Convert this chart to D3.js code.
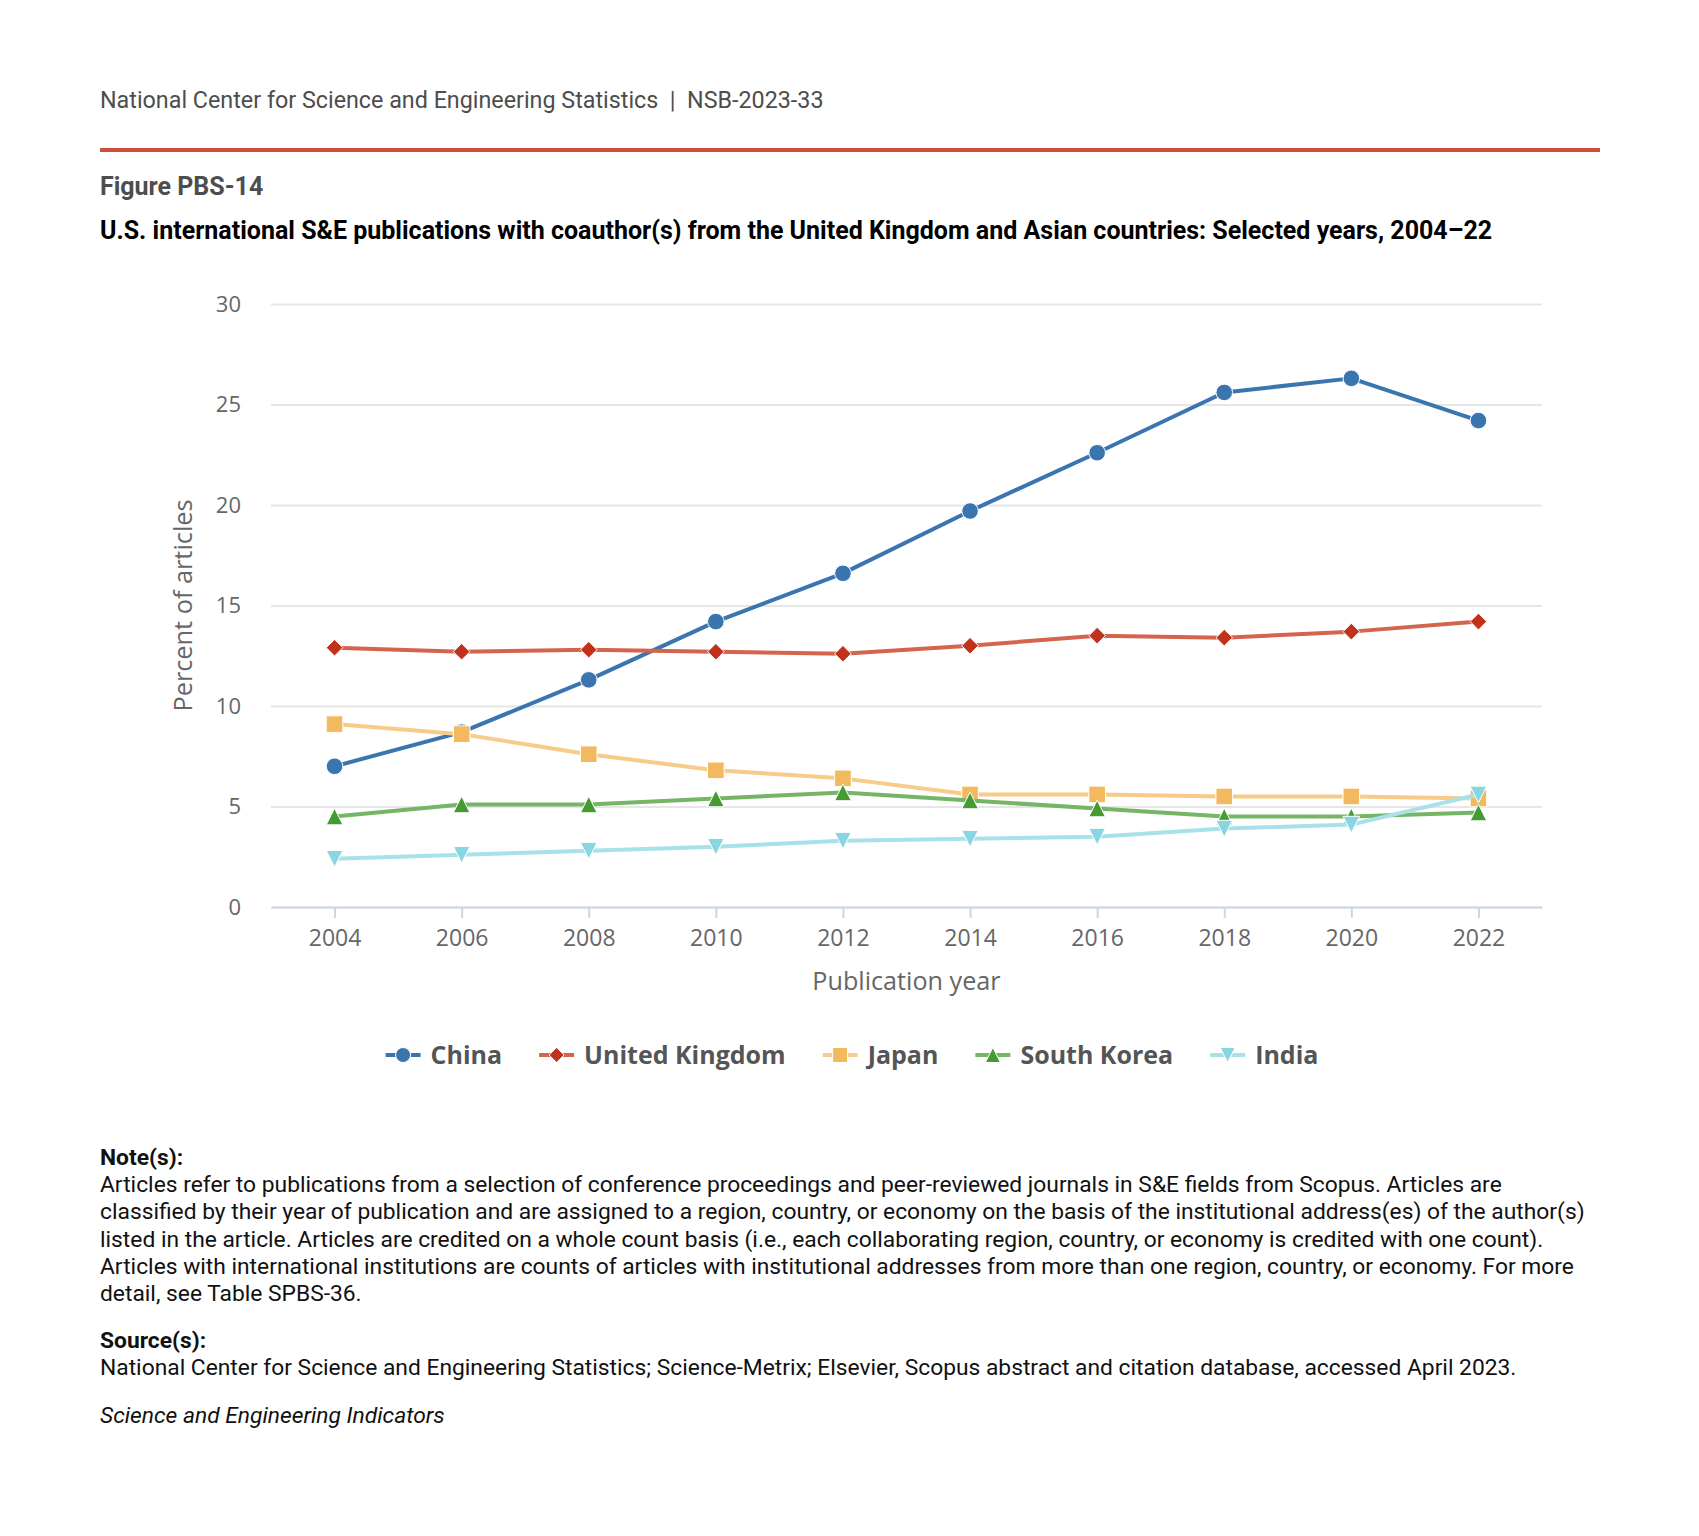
<!DOCTYPE html>
<html>
<head>
<meta charset="utf-8">
<script src="https://cdn.jsdelivr.net/npm/d3@7"></script>
<style>
  body { margin: 0; background: #fff; }
  svg { display: block; }
</style>
</head>
<body>
<div id="chart"></div>
<script>
// datos
var years = [2004, 2006, 2008, 2010, 2012, 2014, 2016, 2018, 2020, 2022];
var yTicks = [0, 5, 10, 15, 20, 25, 30];
var seriesNames = ["China", "United Kingdom", "Japan", "South Korea", "India"];
var china = [7.0, 8.7, 11.3, 14.2, 16.6, 19.7, 22.6, 25.6, 26.3, 24.2];
var unitedKingdom = [12.9, 12.7, 12.8, 12.7, 12.6, 13.0, 13.5, 13.4, 13.7, 14.2];
var japan = [9.1, 8.6, 7.6, 6.8, 6.4, 5.6, 5.6, 5.5, 5.5, 5.4];
var southKorea = [4.5, 5.1, 5.1, 5.4, 5.7, 5.3, 4.9, 4.5, 4.5, 4.7];
var india = [2.4, 2.6, 2.8, 3.0, 3.3, 3.4, 3.5, 3.9, 4.1, 5.6];

var noteLines = [
  "Articles refer to publications from a selection of conference proceedings and peer-reviewed journals in S&E fields from Scopus. Articles are",
  "classified by their year of publication and are assigned to a region, country, or economy on the basis of the institutional address(es) of the author(s)",
  "listed in the article. Articles are credited on a whole count basis (i.e., each collaborating region, country, or economy is credited with one count).",
  "Articles with international institutions are counts of articles with institutional addresses from more than one region, country, or economy. For more",
  "detail, see Table SPBS-36."
];
var sourceLine = "National Center for Science and Engineering Statistics; Science-Metrix; Elsevier, Scopus abstract and citation database, accessed April 2023.";

var values = [china, unitedKingdom, japan, southKorea, india];
var lineColors = ["#3a75b0", "#d4644e", "#f6cc88", "#75b666", "#a8e1e9"];
var markerColors = ["#3a75b0", "#c0321b", "#f2b95e", "#459a32", "#88d6e1"];

// formas de los marcadores (r = medio ancho)
var shapes = [
  function (r) { return "M" + (-r) + ",0a" + r + "," + r + " 0 1,0 " + (2 * r) + ",0a" + r + "," + r + " 0 1,0 " + (-2 * r) + ",0Z"; },
  function (r) { return "M0," + (-r) + "L" + r + ",0L0," + r + "L" + (-r) + ",0Z"; },
  function (r) { return "M" + (-r) + "," + (-r) + "H" + r + "V" + r + "H" + (-r) + "Z"; },
  function (r) { return "M0," + (-r) + "L" + r + "," + r + "H" + (-r) + "Z"; },
  function (r) { return "M" + (-r) + "," + (-r) + "H" + r + "L0," + r + "Z"; }
];

var W = 1699, H = 1536;
var svg = d3.select("#chart").append("svg").attr("width", W).attr("height", H);
svg.append("rect").attr("width", W).attr("height", H).attr("fill", "#fff");

// cabecera
svg.append("text").attr("x", 100).attr("y", 108)
  .attr("font-family", "Roboto").attr("font-size", 23.3).attr("fill", "#4d4d4d")
  .attr("xml:space", "preserve")
  .text("National Center for Science and Engineering Statistics  |  NSB-2023-33");
svg.append("line").attr("x1", 100).attr("x2", 1600).attr("y1", 150).attr("y2", 150)
  .attr("stroke", "#cc4f37").attr("stroke-width", 4);
svg.append("text").attr("x", 100).attr("y", 195)
  .attr("font-family", "Roboto").attr("font-weight", "bold").attr("font-size", 25).attr("fill", "#4d4d4d")
  .text("Figure PBS-14");
svg.append("text").attr("x", 100).attr("y", 239)
  .attr("font-family", "Roboto").attr("font-weight", "bold").attr("font-size", 25).attr("fill", "#000")
  .text("U.S. international S&E publications with coauthor(s) from the United Kingdom and Asian countries: Selected years, 2004\u201322");

// escalas
var x = d3.scaleLinear().domain([2003, 2023]).range([271, 1542]);
var y = d3.scaleLinear().domain([0, 30]).range([907, 304]);

var g = svg.append("g").attr("font-family", "Open Sans");

// rejilla y eje y
var yAxis = g.append("g").attr("transform", "translate(271,0)")
  .call(d3.axisLeft(y).tickValues(yTicks).tickSize(-(1542 - 271)).tickPadding(30));
yAxis.select(".domain").remove();
yAxis.selectAll("line").attr("stroke", "#e6e6e6").attr("stroke-width", 2);
yAxis.selectAll("text").attr("font-size", 22).attr("fill", "#666").attr("font-family", "Open Sans");

// eje x
var xAxis = g.append("g").attr("transform", "translate(0,907)")
  .call(d3.axisBottom(x).tickValues(years).tickFormat(d3.format("d")).tickSize(11).tickPadding(12).tickSizeOuter(0));
xAxis.select(".domain").attr("stroke", "#ccd6eb").attr("stroke-width", 2);
xAxis.selectAll("line").attr("stroke", "#ccd6eb").attr("stroke-width", 2);
xAxis.selectAll("text").attr("font-size", 23).attr("fill", "#666").attr("font-family", "Open Sans");

// titulos de ejes
g.append("text").attr("transform", "translate(192," + ((304 + 907) / 2) + ") rotate(-90)")
  .attr("text-anchor", "middle").attr("font-size", 25.3).attr("fill", "#666")
  .text("Percent of articles");
g.append("text").attr("x", (271 + 1542) / 2).attr("y", 990)
  .attr("text-anchor", "middle").attr("font-size", 25.2).attr("fill", "#666")
  .text("Publication year");

// series
var line = d3.line().x(function (d, i) { return x(years[i]); }).y(function (d) { return y(d); });
values.forEach(function (vals, s) {
  var sg = g.append("g");
  sg.append("path").datum(vals).attr("d", line)
    .attr("fill", "none").attr("stroke", lineColors[s]).attr("stroke-width", 4)
    .attr("stroke-linejoin", "round").attr("stroke-linecap", "round");
  sg.selectAll("path.m").data(vals).enter().append("path").attr("class", "m")
    .attr("transform", function (d, i) { return "translate(" + x(years[i]) + "," + y(d) + ")"; })
    .attr("d", shapes[s](8.3))
    .attr("fill", markerColors[s]).attr("stroke", "#fff").attr("stroke-width", 1);
});

// leyenda
var legend = g.append("g").attr("transform", "translate(0,1055)");
var cursor = 0;
var items = [];
seriesNames.forEach(function (name, s) {
  var it = legend.append("g");
  it.append("line").attr("x1", 0).attr("x2", 35).attr("stroke", lineColors[s]).attr("stroke-width", 4);
  it.append("path").attr("transform", "translate(17.5,0)").attr("d", shapes[s](7.5))
    .attr("fill", markerColors[s]).attr("stroke", "#fff").attr("stroke-width", 1);
  var t = it.append("text").attr("x", 45).attr("dy", "0.35em")
    .attr("font-size", 25).attr("font-weight", "bold").attr("fill", "#555").text(name);
  var w = 45 + t.node().getComputedTextLength();
  items.push({ g: it, x: cursor });
  cursor += w + 37;
});
var total = cursor - 37;
var start = 852 - total / 2;
items.forEach(function (d) { d.g.attr("transform", "translate(" + (start + d.x) + ",0)"); });

// notas
var notes = svg.append("g").attr("font-family", "Roboto").attr("font-size", 22.8).attr("fill", "#111");
notes.append("text").attr("x", 100).attr("y", 1165).attr("font-weight", "bold").text("Note(s):");
noteLines.forEach(function (l, i) {
  notes.append("text").attr("x", 100).attr("y", 1192 + i * 27.3).text(l);
});
notes.append("text").attr("x", 100).attr("y", 1348).attr("font-weight", "bold").text("Source(s):");
notes.append("text").attr("x", 100).attr("y", 1375).text(sourceLine);
notes.append("text").attr("x", 100).attr("y", 1423).attr("font-style", "italic").text("Science and Engineering Indicators");
</script>
</body>
</html>
